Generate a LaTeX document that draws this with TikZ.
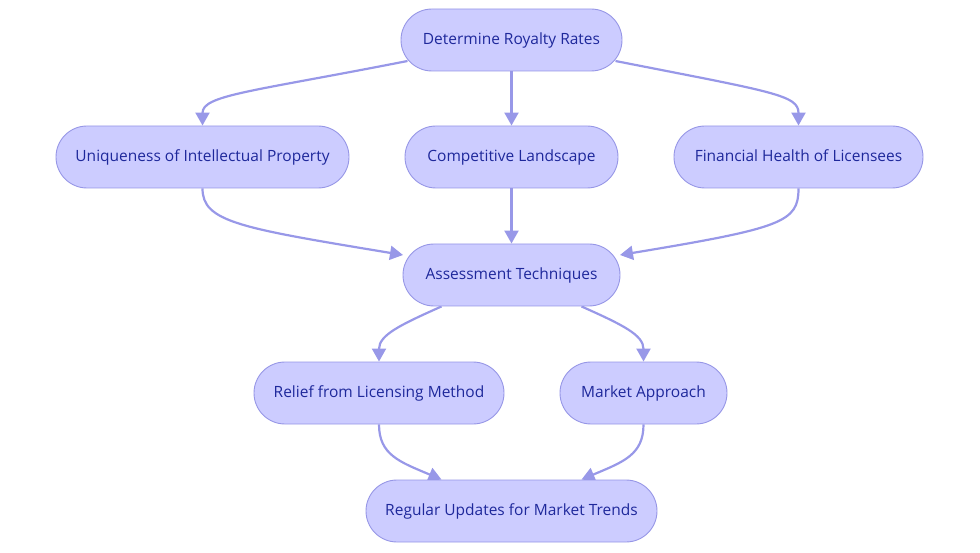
\documentclass[tikz,border=0pt]{standalone}
\usepackage{fontspec}
\setmainfont{Open Sans}
\usetikzlibrary{arrows.meta,shapes.misc,backgrounds}
\definecolor{boxfill}{RGB}{204,204,255}
\definecolor{boxline}{RGB}{150,150,230}
\definecolor{edgecol}{RGB}{152,152,232}
\definecolor{txt}{RGB}{30,40,155}
\begin{document}
\begin{tikzpicture}[x=1pt,y=-1pt,
  box/.style={rounded rectangle, draw=boxline, fill=boxfill, line width=0.9pt,
    minimum height=62pt, inner sep=0pt, text height=12pt, text depth=3pt,
    text=txt, font=\fontsize{15.5}{17}\selectfont},
  edge/.style={draw=edgecol, line width=2.2pt, -{Triangle[length=13pt,width=14pt]}}]
\useasboundingbox (0,0) rectangle (980,553);
\node[box, minimum width=221pt] (D) at (511.5,40) {Determine Royalty Rates};
\node[box, minimum width=293pt] (U) at (202.5,157) {Uniqueness of Intellectual Property};
\node[box, minimum width=213pt] (C) at (511.5,157) {Competitive Landscape};
\node[box, minimum width=249pt] (F) at (798.5,157) {Financial Health of Licensees};
\node[box, minimum width=217pt] (A) at (511.5,275) {Assessment Techniques};
\node[box, minimum width=250pt] (R) at (379,393) {Relief from Licensing Method};
\node[box, minimum width=167pt] (M) at (643.5,393) {Market Approach};
\node[box, minimum width=291pt] (G) at (511.5,511) {Regular Updates for Market Trends};
\begin{scope}[on background layer]
\draw[edge] ([shift={(-104pt,-21pt)}]D.center) .. controls (250,92) and (202.5,95) .. (U.north);
\draw[edge] (D.south) -- (C.north);
\draw[edge] ([shift={(104pt,-21pt)}]D.center) .. controls (773,92) and (798.5,95) .. (F.north);
\draw[edge] (U.south) .. controls (202.5,222) and (240,228) .. ([shift={(-108.5pt,20pt)}]A.center);
\draw[edge] (C.south) -- (A.north);
\draw[edge] (F.south) .. controls (798.5,222) and (783,228) .. ([shift={(108.5pt,20pt)}]A.center);
\draw[edge] ([xshift=-70pt]A.south) .. controls (400,325) and (379,335) .. (R.north);
\draw[edge] ([xshift=70pt]A.south) .. controls (623,325) and (643.5,335) .. (M.north);
\draw[edge] (R.south) .. controls (379,455) and (400,462) .. ([xshift=-70pt]G.north);
\draw[edge] (M.south) .. controls (643.5,455) and (623,462) .. ([xshift=70pt]G.north);
\end{scope}
\end{tikzpicture}
\end{document}
